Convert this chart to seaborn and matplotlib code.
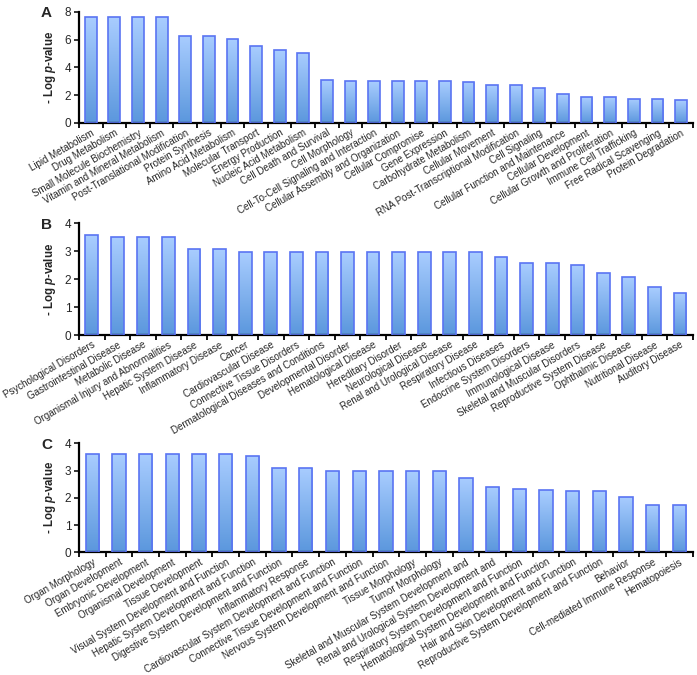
import numpy as np
import pandas as pd
import seaborn as sns
import matplotlib
matplotlib.use("Agg")
import matplotlib.pyplot as plt
from matplotlib.colors import LinearSegmentedColormap

# === Panel A: molecular and cellular functions
cats_a = ["Lipid Metabolism", "Drug Metabolism", "Small Molecule Biochemistry",
          "Vitamin and Mineral Metabolism", "Post-Translational Modification",
          "Protein Synthesis", "Amino Acid Metabolism", "Molecular Transport",
          "Energy Production", "Nucleic Acid Metabolism", "Cell Death and Survival",
          "Cell Morphology", "Cell-To-Cell Signaling and Interaction",
          "Cellular Assembly and Organization", "Cellular Compromise",
          "Gene Expression", "Carbohydrate Metabolism", "Cellular Movement",
          "RNA Post-Transcriptional Modification", "Cell Signaling",
          "Cellular Function and Maintenance", "Cellular Development",
          "Cellular Growth and Proliferation", "Immune Cell Trafficking",
          "Free Radical Scavenging", "Protein Degradation"]
vals_a = [7.6, 7.6, 7.6, 7.6, 6.28, 6.28, 6.02, 5.56, 5.22, 5.05, 3.07,
          3.0, 3.0, 3.0, 3.0, 3.0, 2.95, 2.71, 2.71, 2.5, 2.05, 1.85,
          1.85, 1.73, 1.7, 1.63]

# === Panel B: diseases and disorders
cats_b = ["Psychological Disorders", "Gastrointestinal Disease", "Metabolic Disease",
          "Organismal Injury and Abnormalities", "Hepatic System Disease",
          "Inflammatory Disease", "Cancer", "Cardiovascular Disease",
          "Connective Tissue Disorders", "Dermatological Diseases and Conditions",
          "Developmental Disorder", "Hematological Disease", "Hereditary Disorder",
          "Neurological Disease", "Renal and Urological Disease", "Respiratory Disease",
          "Infectious Diseases", "Endocrine System Disorders", "Immunological Disease",
          "Skeletal and Muscular Disorders", "Reproductive System Disease",
          "Ophthalmic Disease", "Nutritional Disease", "Auditory Disease"]
vals_b = [3.58, 3.51, 3.51, 3.51, 3.07, 3.07, 2.97, 2.97, 2.97, 2.97, 2.97,
          2.97, 2.97, 2.97, 2.97, 2.97, 2.8, 2.59, 2.59, 2.5, 2.22, 2.08,
          1.71, 1.5]

# === Panel C: physiological system development and function
cats_c = ["Organ Morphology", "Organ Development", "Embryonic Development",
          "Organismal Development", "Tissue Development",
          "Visual System Development and Function",
          "Hepatic System Development and Function",
          "Digestive System Development and Function", "Inflammatory Response",
          "Cardiovascular System Development and Function",
          "Connective Tissue Development and Function",
          "Nervous System Development and Function", "Tissue Morphology",
          "Tumor Morphology", "Skeletal and Muscular System Development and",
          "Renal and Urological System Development and",
          "Respiratory System Development and Function",
          "Hematological System Development and Function",
          "Hair and Skin Development and Function",
          "Reproductive System Development and Function", "Behavior",
          "Cell-mediated Immune Response", "Hematopoiesis"]
vals_c = [3.62, 3.62, 3.62, 3.62, 3.62, 3.62, 3.55, 3.09, 3.09, 3.0, 3.0,
          3.0, 3.0, 3.0, 2.72, 2.41, 2.31, 2.27, 2.24, 2.24, 2.02, 1.72, 1.72]

sns.set_style("white")
plt.rcParams["font.family"] = ["Liberation Sans", "DejaVu Sans"]
plt.rcParams["mathtext.fontset"] = "custom"
plt.rcParams["mathtext.it"] = "Liberation Sans:italic:bold"
plt.rcParams["mathtext.rm"] = "Liberation Sans:bold"

grad = LinearSegmentedColormap.from_list("bar", ["#5B97DD", "#A9CDFF"])
edge = "#5A74F2"


def panel(ax, cats, vals, ymax, step, letter):
    df = pd.DataFrame({"cat": cats, "val": vals})
    sns.barplot(data=df, x="cat", y="val", width=0.5, color="#8FB8F5",
                edgecolor=edge, linewidth=1.2, ax=ax)
    # gradient fill clipped to each bar
    g = np.linspace(0, 1, 256).reshape(-1, 1)
    for p in ax.patches:
        x0, w, h = p.get_x(), p.get_width(), p.get_height()
        p.set_facecolor("none")
        p.set_zorder(3)
        im = ax.imshow(g, cmap=grad, origin="lower", aspect="auto",
                       extent=[x0, x0 + w, 0, h], zorder=2)
        im.set_clip_path(p)
    n = len(cats)
    ax.set_xlim(-0.5, n - 0.5)
    ax.set_ylim(0, ymax)
    ax.set_yticks(np.arange(0, ymax + 0.01, step))
    ax.set_xticks(np.arange(n + 1) - 0.5, minor=True)
    ax.set_xticks(np.arange(n))
    ax.set_xticklabels(cats, rotation=30, ha="right", va="top",
                       rotation_mode="anchor", fontsize=7.0)
    ax.tick_params(axis="x", which="major", length=0, pad=3.5)
    ax.tick_params(axis="x", which="minor", length=3.5, width=1.3, color="black",
                   direction="out", bottom=True)
    ax.tick_params(axis="y", length=3.5, width=1.3, direction="out", left=True,
                   labelsize=8.5, pad=2)
    for s in ["top", "right"]:
        ax.spines[s].set_visible(False)
    for s in ["left", "bottom"]:
        ax.spines[s].set_color("black")
        ax.spines[s].set_linewidth(1.6)
    ax.set_xlabel("")
    ax.set_ylabel(r"- Log $\it{p}$-value", fontsize=8.3, fontweight="bold",
                  labelpad=5)
    pos = ax.get_position()
    ax.figure.text(0.059, pos.y1 - 0.002, letter, fontsize=11,
                   fontweight="bold", ha="left", va="center")


fig = plt.figure(figsize=(6.97, 6.75), dpi=100)
ax_a = fig.add_axes([0.1133, 0.8178, 0.8807, 0.1649])
ax_b = fig.add_axes([0.1133, 0.5037, 0.8807, 0.1655])
ax_c = fig.add_axes([0.1133, 0.1818, 0.8807, 0.1615])

panel(ax_a, cats_a, vals_a, 8, 2, "A")
panel(ax_b, cats_b, vals_b, 4, 1, "B")
panel(ax_c, cats_c, vals_c, 4, 1, "C")

fig.savefig("out.png", dpi=100)
